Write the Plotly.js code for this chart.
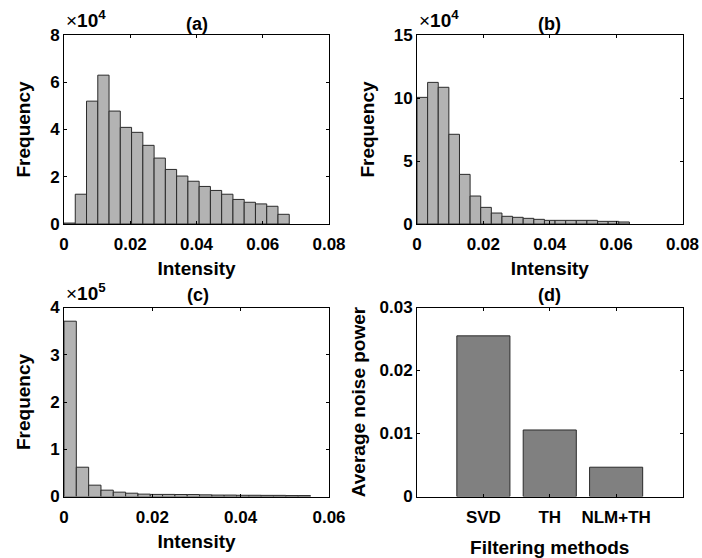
<!DOCTYPE html>
<html><head><meta charset="utf-8">
<script src="https://cdn.plot.ly/plotly-3.0.1.min.js"></script>
<style>html,body{margin:0;padding:0;background:#fff}</style>
</head><body><div id="chart" style="width:702px;height:558px"></div>
<script>
// Panel (a): histogram counts, bin width
const binWidthA = 0.0034;
const countsA = [400, 12600, 52000, 63000, 47800, 40900, 38800, 33300, 27900, 23100, 20300, 18100, 15900, 14200, 12600, 10400, 9200, 8500, 7500, 4100];
// Panel (b)
const binWidthB = 0.0032;
const countsB = [100500, 112400, 108500, 71200, 39400, 22200, 13200, 8700, 6100, 5300, 4500, 3700, 2900, 2900, 2900, 2900, 2900, 2100, 2100, 1600];
// Panel (c)
const binWidthC = 0.00279;
const countsC = [371000, 62000, 24000, 13400, 9200, 7000, 5000, 4400, 4400, 4200, 4100, 3500, 3000, 3000, 2600, 2600, 2400, 2400, 2000, 2000];
// Panel (d)
const methods = ['SVD', 'TH', 'NLM+TH'];
const noisePower = [0.0255, 0.01056, 0.00465];
const titles = ['(a)', '(b)', '(c)', '(d)'];

function centers(n, w) { return Array.from({length: n}, (_, i) => (i + 0.5) * w); }

const W = 702, H = 558;
const px = x => x / W, py = y => 1 - y / H;
const FONT = 'Liberation Sans, Arial, sans-serif';
const histFill = '#b3b3b3', edge = '#2a2a2a';

function hist(counts, w, xa, ya) {
  return {type: 'bar', x: centers(counts.length, w), y: counts, width: w,
    xaxis: xa, yaxis: ya, marker: {color: histFill, line: {color: edge, width: 1}},
    hoverinfo: 'x+y', showlegend: false};
}

const traces = [
  hist(countsA, binWidthA, 'x', 'y'),
  hist(countsB, binWidthB, 'x2', 'y2'),
  hist(countsC, binWidthC, 'x3', 'y3'),
  {type: 'bar', x: methods, y: noisePower, width: 0.8, xaxis: 'x4', yaxis: 'y4',
   marker: {color: '#808080', line: {color: edge, width: 1}}, showlegend: false}
];

const tickFont = {family: FONT, size: 17, color: '#000', weight: 'bold'};
const titleFont = {family: FONT, size: 19, color: '#000', weight: 'bold'};
function ax(extra) {
  return Object.assign({
    showline: true, linecolor: '#000', linewidth: 1, mirror: 'ticks',
    ticks: 'inside', ticklen: 3, tickcolor: '#000', tickwidth: 1,
    showgrid: false, zeroline: false, tickfont: tickFont, fixedrange: true
  }, extra);
}
function xax(extra) { return ax(Object.assign({ticklabelstandoff: 5}, extra)); }

const xdA = [px(64), px(329)], xdB = [px(417), px(682.5)];
const ydTop = [py(224), py(35)], ydBot = [py(496.5), py(307.5)];
const annFont = {family: FONT, size: 18, weight: 'bold', color: '#000'};
const expFont = {family: FONT, size: 19, color: '#000'};

const layout = {
  width: W, height: H, margin: {l: 0, r: 0, t: 0, b: 0},
  paper_bgcolor: '#fff', plot_bgcolor: '#fff', bargap: 0, showlegend: false,
  font: {family: FONT, color: '#000'},
  xaxis: xax({domain: xdA, anchor: 'y', range: [0, 0.08], tickvals: [0, 0.02, 0.04, 0.06, 0.08], ticktext: ['0','0.02','0.04','0.06','0.08'], title: {text: 'Intensity', font: titleFont, standoff: 8}}),
  yaxis: ax({domain: ydTop, anchor: 'x', range: [0, 80000], tickvals: [0, 20000, 40000, 60000, 80000], ticktext: ['0','2','4','6','8'], title: {text: 'Frequency', font: titleFont, standoff: 14}}),
  xaxis2: xax({domain: xdB, anchor: 'y2', range: [0, 0.08], tickvals: [0, 0.02, 0.04, 0.06, 0.08], ticktext: ['0','0.02','0.04','0.06','0.08'], title: {text: 'Intensity', font: titleFont, standoff: 8}}),
  yaxis2: ax({domain: ydTop, anchor: 'x2', range: [0, 150000], tickvals: [0, 50000, 100000, 150000], ticktext: ['0','5','10','15'], title: {text: 'Frequency', font: titleFont, standoff: 14}}),
  xaxis3: xax({domain: xdA, anchor: 'y3', range: [0, 0.06], tickvals: [0, 0.02, 0.04, 0.06], ticktext: ['0','0.02','0.04','0.06'], title: {text: 'Intensity', font: titleFont, standoff: 8}}),
  yaxis3: ax({domain: ydBot, anchor: 'x3', range: [0, 400000], tickvals: [0, 100000, 200000, 300000, 400000], ticktext: ['0','1','2','3','4'], title: {text: 'Frequency', font: titleFont, standoff: 14}}),
  xaxis4: xax({domain: xdB, anchor: 'y4', type: 'category', range: [-1, 3], title: {text: 'Filtering methods', font: titleFont, standoff: 14}}),
  yaxis4: ax({domain: ydBot, anchor: 'x4', range: [0, 0.03], tickvals: [0, 0.01, 0.02, 0.03], ticktext: ['0','0.01','0.02','0.03'], title: {text: 'Average noise power', font: titleFont, standoff: 8}}),
  annotations: [
    {text: titles[0], x: px(196.5), y: py(23.5), xref: 'paper', yref: 'paper', xanchor: 'center', yanchor: 'middle', showarrow: false, font: annFont},
    {text: titles[1], x: px(549.7), y: py(23.5), xref: 'paper', yref: 'paper', xanchor: 'center', yanchor: 'middle', showarrow: false, font: annFont},
    {text: titles[2], x: px(197.5), y: py(295), xref: 'paper', yref: 'paper', xanchor: 'center', yanchor: 'middle', showarrow: false, font: annFont},
    {text: titles[3], x: px(549.7), y: py(295), xref: 'paper', yref: 'paper', xanchor: 'center', yanchor: 'middle', showarrow: false, font: annFont},
    {text: '×<b>10<sup>4</sup></b>', x: px(64), y: py(33), xref: 'paper', yref: 'paper', xanchor: 'left', yanchor: 'bottom', showarrow: false, font: expFont},
    {text: '×<b>10<sup>4</sup></b>', x: px(417), y: py(33), xref: 'paper', yref: 'paper', xanchor: 'left', yanchor: 'bottom', showarrow: false, font: expFont},
    {text: '×<b>10<sup>5</sup></b>', x: px(64), y: py(305.5), xref: 'paper', yref: 'paper', xanchor: 'left', yanchor: 'bottom', showarrow: false, font: expFont}
  ]
};

Plotly.newPlot('chart', traces, layout, {displayModeBar: false, staticPlot: true});
</script></body></html>
